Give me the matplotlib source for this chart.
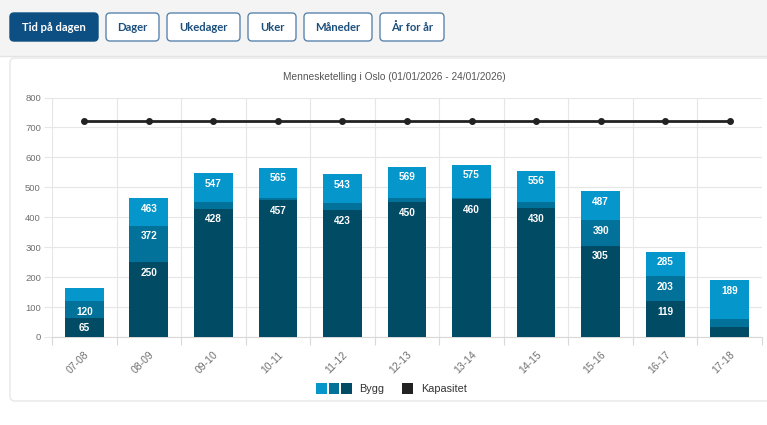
import matplotlib.pyplot as plt
import numpy as np
from matplotlib.patches import FancyBboxPatch, Rectangle

# data
hours = ['07-08', '08-09', '09-10', '10-11', '11-12', '12-13',
         '13-14', '14-15', '15-16', '16-17', '17-18']
dark_top = [65, 250, 428, 457, 423, 450, 460, 430, 305, 119, 34]
mid_top = [120, 372, 451, 463, 446, 464, 463, 452, 390, 203, 61]
light_top = [165, 463, 547, 565, 543, 569, 575, 556, 487, 285, 189]
capacity = [722, 722, 722, 722, 722, 722, 722, 722, 722, 722, 722]

buttons = ['Tid på dagen', 'Dager', 'Ukedager', 'Uker', 'Måneder', 'År for år']
button_x = [10, 106, 167, 248, 304, 380]
button_w = [88, 53, 73, 48, 68, 64]

title = 'Mennesketelling i Oslo (01/01/2026 - 24/01/2026)'

c_light = '#0596cc'
c_mid = '#03729b'
c_dark = '#024b65'
c_btn = '#0d4f82'

W, H = 767, 425
plt.rcParams['font.family'] = ['Liberation Sans', 'DejaVu Sans']

fig = plt.figure(figsize=(W / 100, H / 100), dpi=100)

# background layer in pixel coordinates
bg = fig.add_axes([0, 0, 1, 1], zorder=-1)
bg.set_xlim(0, W)
bg.set_ylim(H, 0)
bg.axis('off')
bg.add_patch(Rectangle((0, 0), W, 56, facecolor='#f4f4f4', edgecolor='none'))
bg.plot([0, W], [56, 56], color='#e4e4e4', lw=1)
bg.add_patch(FancyBboxPatch((10, 58), W + 20, 343, boxstyle='round,pad=0,rounding_size=5',
                            facecolor='white', edgecolor='#e8e8e8', lw=1))

for i, (label, x0, w) in enumerate(zip(buttons, button_x, button_w)):
    active = i == 0
    bg.add_patch(FancyBboxPatch((x0, 13), w, 28, boxstyle='round,pad=0,rounding_size=4',
                                facecolor=c_btn if active else 'white',
                                edgecolor=c_btn if active else '#5b86ad', lw=1))
    bg.text(x0 + w / 2, 27.5, label, ha='center', va='center', fontsize=8.1,
            fontweight='bold', family=['Lato', 'DejaVu Sans'],
            color='white' if active else '#1d4f7c')

# legend drawn by hand (three squares for Bygg, one for Kapasitet)
for i, c in enumerate([c_light, c_mid, c_dark]):
    bg.add_patch(Rectangle((316 + i * 12.5, 383), 10.5, 10.5, facecolor=c, edgecolor='none'))
bg.text(359, 388.5, 'Bygg', ha='left', va='center', fontsize=7.8, color='#333333')
bg.add_patch(Rectangle((402, 383), 10.5, 10.5, facecolor='#222222', edgecolor='none'))
bg.text(421, 388.5, 'Kapasitet', ha='left', va='center', fontsize=7.8, color='#333333')

bg.text(394, 77, title, ha='center', va='center', fontsize=7.3, color='#555555')

# chart
ax = fig.add_axes([52 / W, 1 - 337 / H, (762 - 52) / W, (337 - 97.5) / H], zorder=1)
ax.set_facecolor('none')

x = np.arange(len(hours))
dark = np.array(dark_top)
mid = np.array(mid_top) - dark
light = np.array(light_top) - np.array(mid_top)

bw = 0.6
ax.bar(x, dark, bw, color=c_dark, zorder=3)
ax.bar(x, mid, bw, bottom=dark, color=c_mid, zorder=3)
ax.bar(x, light, bw, bottom=np.array(mid_top), color=c_light, zorder=3)

# cumulative labels near the top of each segment, only where it fits
for seg, tops in [(dark, dark_top), (mid, mid_top), (light, light_top)]:
    for xi, s, t in zip(x, seg, tops):
        if s >= 50:
            ax.annotate(str(t), (xi, t), xytext=(0, -10.5), textcoords='offset pixels',
                        ha='center', va='center', fontsize=7.2, fontweight='bold',
                        color='white', zorder=5)

ax.plot(x, capacity, color='#222222', lw=2, marker='o', markersize=4, zorder=4)

ax.set_xlim(-0.5, len(hours) - 0.5)
ax.set_ylim(0, 800)
ax.set_yticks(np.arange(0, 801, 100))
ax.set_xticks(x)
ax.set_xticklabels(hours, rotation=45, ha='right', va='top', rotation_mode='anchor',
                   fontsize=7.5, color='#707070')
ax.set_xticks(np.arange(-0.5, len(hours)), minor=True)
ax.tick_params(axis='x', which='major', length=0, pad=9)
ax.tick_params(axis='x', which='minor', length=6, color='#d8d8d8', width=0.8)
ax.tick_params(axis='y', length=6, color='#e6e6e6', labelsize=6.8, labelcolor='#707070', pad=2)
ax.grid(axis='y', color='#e6e6e6', lw=0.8, zorder=0)
ax.grid(axis='x', which='minor', color='#e6e6e6', lw=0.8, zorder=0)
for s in ['top', 'right', 'left']:
    ax.spines[s].set_visible(False)
ax.spines['bottom'].set_color('#d8d8d8')

fig.savefig('out.png', dpi=100)
